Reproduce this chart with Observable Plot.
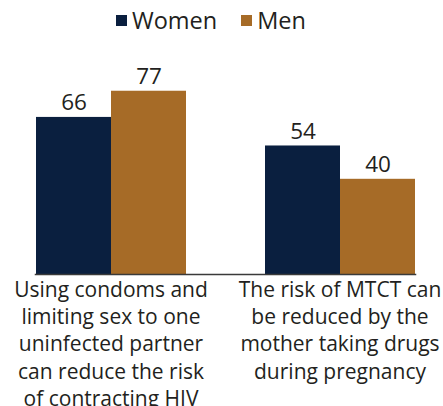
<!DOCTYPE html>
<html><head><meta charset="utf-8">
<script src="https://cdn.jsdelivr.net/npm/d3@7"></script>
<script src="https://cdn.jsdelivr.net/npm/@observablehq/plot@0.6"></script>
<style>
html,body{margin:0;padding:0;background:#fff;}
#legend{height:36px;padding-left:116px;padding-top:9px;box-sizing:border-box;overflow:hidden;}
.lg-swatches{font-family:"Open Sans",sans-serif !important;font-size:23.5px !important;color:#231f20 !important;min-height:0 !important;margin:0 !important;align-items:center;line-height:1 !important;}
.lg-swatch{margin-right:24px !important;}
.lg-swatch > svg{margin-right:5px !important;}
#chart svg{display:block;}
</style></head><body>
<div id="legend"></div>
<div id="chart"></div>
<script>
const categories = [
  "Using condoms and\nlimiting sex to one\nuninfected partner\ncan reduce the risk\nof contracting HIV",
  "The risk of MTCT can\nbe reduced by the\nmother taking drugs\nduring pregnancy"
];
const series = ["Women", "Men"];
const women = [66, 54];
const men = [77, 40];
const colors = ["#0a1f3f", "#a66b27"];

const data = categories.flatMap((c, i) => [
  {cat: c, sex: series[0], value: women[i]},
  {cat: c, sex: series[1], value: men[i]}
]);

const plot = Plot.plot({
  width: 443, height: 370,
  marginLeft: 7, marginRight: 0, marginTop: 0, marginBottom: 132,
  style: {fontFamily: "Open Sans", color: "#231f20", background: "#fff", overflow: "visible"},
  fx: {domain: categories, paddingInner: 0.34, paddingOuter: 0.12, label: null},
  x: {domain: series, padding: 0, axis: null},
  y: {domain: [0, 100], axis: null},
  color: {domain: series, range: colors},
  marks: [
    Plot.barY(data, {fx: "cat", x: "sex", y: "value", fill: "sex"}),
    Plot.text(data, {fx: "cat", x: "sex", y: "value", text: d => String(d.value), dy: -7, lineAnchor: "bottom", fontSize: 22.5, fill: "#231f20"}),
    Plot.frame({anchor: "bottom", facet: "super", stroke: "#3a3a3a", strokeWidth: 1.5}),
    Plot.axisFx({anchor: "bottom", tickSize: 0, tickPadding: 3, fontSize: 21, lineHeight: 1.3, label: null, fill: "#231f20"})
  ]
});
document.getElementById("chart").append(plot);
const leg = plot.legend("color", {swatchSize: 11, className: "lg"});
document.getElementById("legend").append(leg);
</script>
</body></html>
